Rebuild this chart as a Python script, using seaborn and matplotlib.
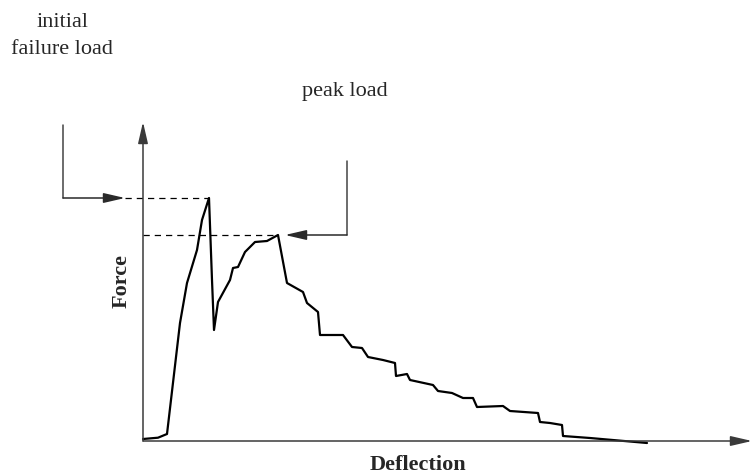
import pandas as pd
import seaborn as sns
import matplotlib.pyplot as plt

# load-deflection trace (arbitrary units)
deflection = [0.0, 1.5, 2.4, 3.7, 4.4, 5.4, 5.9, 6.6, 6.9, 7.1, 7.5, 8.7, 9.0, 9.5,
              10.2, 11.2, 12.4, 13.5, 14.4, 16.0, 16.4, 17.5, 17.7, 20.0, 20.9, 21.9,
              22.5, 24.0, 25.2, 25.3, 26.4, 26.7, 29.0, 29.5, 30.9, 32.0, 33.0, 33.4,
              36.0, 36.7, 39.5, 39.7, 40.7, 41.9, 42.0, 44.7, 50.4]
force = [0.2, 0.33, 0.7, 11.8, 15.8, 19.1, 22.1, 24.3, 16.1, 11.1, 13.9, 16.1, 17.3, 17.4,
         18.9, 19.9, 20.0, 20.6, 15.8, 14.9, 13.8, 12.9, 10.6, 10.6, 9.4, 9.3,
         8.4, 8.1, 7.8, 6.5, 6.7, 6.1, 5.6, 5.0, 4.8, 4.3, 4.3, 3.4,
         3.5, 3.0, 2.8, 1.9, 1.8, 1.6, 0.5, 0.3, -0.2]

initial_failure = (6.6, 24.3)
peak_load = (13.5, 20.6)

sns.set_style("white")
plt.rcParams['font.family'] = ['Liberation Serif', 'DejaVu Serif']

fig = plt.figure(figsize=(7.52, 4.74), dpi=100)
ax = fig.add_axes([143 / 752, 33 / 474, 609 / 752, 319 / 474])

df = pd.DataFrame({'Deflection': deflection, 'Force': force})
sns.lineplot(data=df, x='Deflection', y='Force', sort=False, color='black', lw=1.6, ax=ax)
ax.lines[0].set_clip_on(False)

ax.set_xlim(0, 60.9)
ax.set_ylim(0, 31.9)
ax.set_xticks([])
ax.set_yticks([])
for s in ax.spines.values():
    s.set_visible(False)

# arrowed axes
axis_arrow = dict(arrowstyle='-|>,head_length=1.3,head_width=0.3', color='#3a3a3a',
                  lw=1.1, shrinkA=0, shrinkB=0)
ax.annotate('', xy=(1, 0), xytext=(0, 0), xycoords='axes fraction', arrowprops=axis_arrow)
ax.annotate('', xy=(0, 1), xytext=(0, 0), xycoords='axes fraction', arrowprops=axis_arrow)

ax.set_xlabel('Deflection', fontsize=16, fontweight='bold')
ax.set_ylabel('Force', fontsize=16, fontweight='bold')
ax.xaxis.set_label_coords(0.451, -0.045)
ax.yaxis.set_label_coords(-0.018, 0.5)

# dashed guides
dash = dict(color='black', lw=0.9, ls=(0, (5, 4)), clip_on=False)
ax.plot([-1.8, initial_failure[0]], [initial_failure[1]] * 2, **dash)
ax.plot([0, peak_load[0]], [peak_load[1]] * 2, **dash)

# bracket pointers
bracket = dict(arrowstyle='-|>,head_length=1.3,head_width=0.3', color='#2a2a2a',
               lw=1.1, shrinkA=0, shrinkB=0)
ax.plot([-8.0, -8.0], [31.6, initial_failure[1]], color='#444', lw=1.1, clip_on=False)
ax.annotate('', xy=(-1.8, initial_failure[1]), xytext=(-8.0, initial_failure[1]),
            arrowprops=bracket, annotation_clip=False)
ax.plot([20.4, 20.4], [28.0, peak_load[1]], color='#444', lw=1.1, clip_on=False)
ax.annotate('', xy=(14.2, peak_load[1]), xytext=(20.4, peak_load[1]),
            arrowprops=bracket, annotation_clip=False)

ax.text(-8.0, 41.8, 'initial', fontsize=16, ha='center', va='center')
ax.text(-8.1, 39.1, 'failure load', fontsize=16, ha='center', va='center')
ax.text(20.2, 34.9, 'peak load', fontsize=16, ha='center', va='center')

plt.savefig('out.png', dpi=100)
